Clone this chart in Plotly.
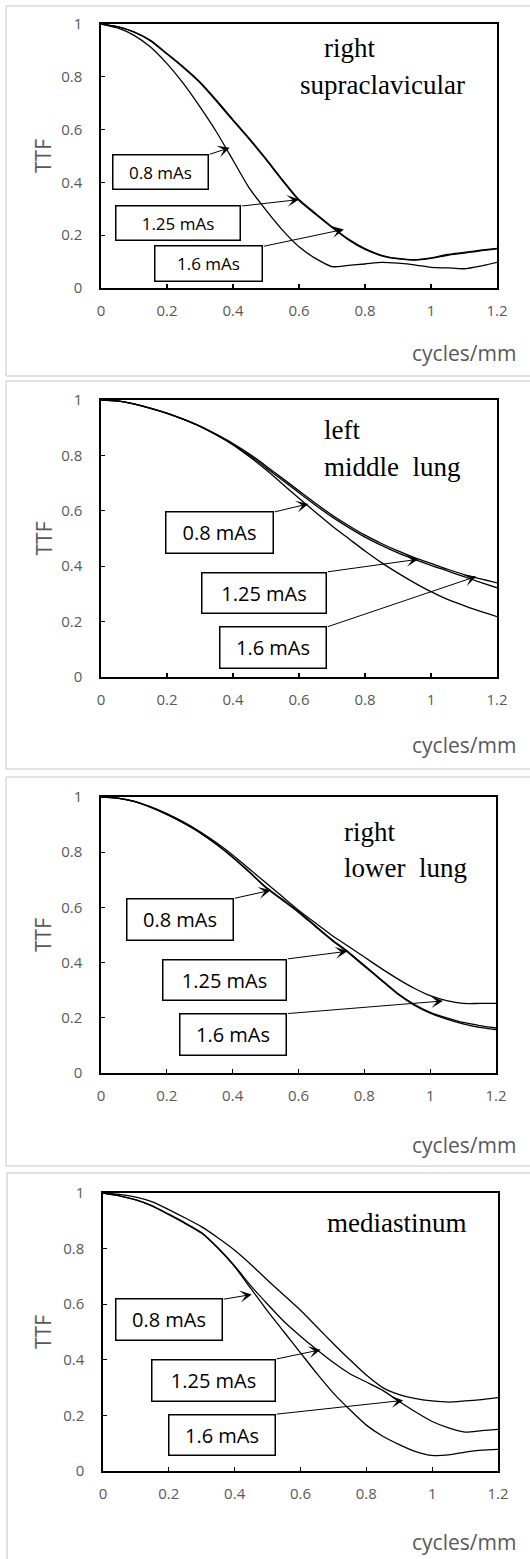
import plotly.graph_objects as go

# ---------------- data ----------------
X = [0, 0.05, 0.1, 0.15, 0.2, 0.25, 0.3, 0.35, 0.4, 0.45, 0.5, 0.55, 0.6,
     0.65, 0.7, 0.75, 0.8, 0.85, 0.9, 0.95, 1.0, 1.05, 1.1, 1.15, 1.2]

# right supraclavicular
p1_08 = [1.0, 0.985, 0.957, 0.913, 0.85, 0.774, 0.686, 0.591, 0.484, 0.377, 0.295, 0.219, 0.156,
         0.112, 0.081, 0.086, 0.091, 0.097, 0.094, 0.088, 0.078, 0.076, 0.073, 0.083, 0.097]
p1_125 = [1.0, 0.99, 0.97, 0.938, 0.888, 0.837, 0.78, 0.711, 0.638, 0.566, 0.49, 0.41, 0.335,
          0.283, 0.232, 0.185, 0.149, 0.124, 0.112, 0.107, 0.114, 0.127, 0.135, 0.143, 0.15]
p1_16 = [1.0, 0.99, 0.969, 0.936, 0.886, 0.834, 0.777, 0.707, 0.634, 0.562, 0.486, 0.406, 0.331,
         0.279, 0.229, 0.182, 0.146, 0.122, 0.11, 0.106, 0.112, 0.124, 0.132, 0.141, 0.148]

# left middle lung
p2_08 = [1.0, 0.997, 0.985, 0.97, 0.952, 0.93, 0.905, 0.874, 0.838, 0.795, 0.748, 0.697, 0.645,
         0.595, 0.545, 0.5, 0.455, 0.413, 0.375, 0.34, 0.308, 0.28, 0.258, 0.237, 0.218]
p2_125 = [1.0, 0.997, 0.986, 0.971, 0.953, 0.931, 0.906, 0.876, 0.843, 0.805, 0.762, 0.717, 0.672,
          0.627, 0.585, 0.547, 0.512, 0.482, 0.455, 0.431, 0.41, 0.389, 0.37, 0.354, 0.34]
p2_16 = [1.0, 0.997, 0.986, 0.97, 0.952, 0.93, 0.905, 0.874, 0.84, 0.8, 0.755, 0.71, 0.665,
         0.62, 0.578, 0.54, 0.505, 0.475, 0.448, 0.425, 0.403, 0.383, 0.362, 0.342, 0.322]

# right lower lung
p3_08 = [1.0, 0.996, 0.984, 0.963, 0.937, 0.907, 0.872, 0.83, 0.783, 0.73, 0.675, 0.63, 0.585,
         0.535, 0.485, 0.44, 0.39, 0.34, 0.29, 0.25, 0.22, 0.2, 0.183, 0.172, 0.163]
p3_125 = [1.0, 0.996, 0.984, 0.963, 0.937, 0.906, 0.871, 0.829, 0.781, 0.728, 0.672, 0.627, 0.582,
          0.532, 0.482, 0.437, 0.387, 0.337, 0.287, 0.247, 0.217, 0.195, 0.178, 0.165, 0.157]
p3_16 = [1.0, 0.996, 0.985, 0.965, 0.94, 0.91, 0.875, 0.835, 0.79, 0.74, 0.69, 0.64, 0.59,
         0.545, 0.5, 0.46, 0.42, 0.38, 0.342, 0.308, 0.28, 0.262, 0.252, 0.252, 0.252]

# mediastinum
p4_08 = [1.0, 0.99, 0.975, 0.953, 0.922, 0.89, 0.855, 0.8, 0.735, 0.655, 0.575, 0.5, 0.425,
         0.35, 0.28, 0.22, 0.165, 0.125, 0.095, 0.07, 0.056, 0.058, 0.068, 0.075, 0.078]
p4_125 = [1.0, 0.99, 0.975, 0.954, 0.924, 0.892, 0.857, 0.802, 0.738, 0.665, 0.6, 0.538, 0.485,
          0.436, 0.39, 0.35, 0.32, 0.29, 0.25, 0.212, 0.178, 0.155, 0.14, 0.145, 0.15]
p4_16 = [1.0, 0.995, 0.985, 0.968, 0.94, 0.91, 0.878, 0.838, 0.794, 0.742, 0.686, 0.632, 0.578,
         0.518, 0.458, 0.4, 0.345, 0.3, 0.275, 0.26, 0.252, 0.248, 0.252, 0.257, 0.264]

series_names = ["0.8 mAs", "1.25 mAs", "1.6 mAs"]
panel_series = [[p1_08, p1_125, p1_16], [p2_08, p2_125, p2_16],
                [p3_08, p3_125, p3_16], [p4_08, p4_125, p4_16]]
panel_titles = [["right", "supraclavicular"], ["left", "middle\u00a0 lung"],
                ["right", "lower\u00a0 lung"], ["mediastinum"]]

x_ticks = [0, 0.2, 0.4, 0.6, 0.8, 1.0, 1.2]
x_ticktext = ["0", "0.2", "0.4", "0.6", "0.8", "1", "1.2"]
y_ticks = [0, 0.2, 0.4, 0.6, 0.8, 1.0]
y_ticktext = ["0", "0.2", "0.4", "0.6", "0.8", "1"]

# label boxes: (center x, center y) in data units; arrow (tail x, tail y, head x, head y)
box_centers = [
    [(0.18, 0.44), (0.234, 0.248), (0.325, 0.092)],
    [(0.359, 0.521), (0.494, 0.305), (0.52, 0.1075)],
    [(0.24, 0.5575), (0.375, 0.338), (0.402, 0.1405)],
    [(0.199, 0.544), (0.3345, 0.327), (0.361, 0.13)],
]
arrows = [
    [(0.325, 0.505, 0.39, 0.531), (0.423, 0.31, 0.6, 0.335), (0.489, 0.157, 0.736, 0.222)],
    [(0.522, 0.595, 0.628, 0.625), (0.683, 0.379, 0.961, 0.425), (0.683, 0.18, 1.137, 0.363)],
    [(0.402, 0.632, 0.515, 0.662), (0.564, 0.413, 0.748, 0.441), (0.564, 0.215, 1.039, 0.261)],
    [(0.362, 0.617, 0.452, 0.635), (0.523, 0.402, 0.661, 0.436), (0.523, 0.204, 0.912, 0.254)],
]

# ---------------- layout geometry (pixels) ----------------
W, H = 530, 1559
plot_px = [(101, 497, 24, 288), (101, 497, 400, 677), (101, 496, 797, 1073), (103, 498, 1193, 1471)]
frame_px = [(6, 6, 376), (6, 381, 769), (6, 777, 1166), (7, 1173, None)]
box_px = [[(96, 35), (125, 35), (108, 36)],
          [(108, 42), (125, 41), (107, 42)],
          [(107, 42), (124, 41), (107, 42)],
          [(107, 42), (124, 42), (107, 41)]]
box_font = [17, 20, 20, 20]
title_px = [[(322, 48), (298, 85)], [(322, 430), (322, 467)],
            [(342, 832), (342, 868)], [(325, 1223)]]
xlab_y = [353, 745, 1145, 1542]

def px(xp):
    return xp / W

def py(yp):
    return 1 - yp / H

GRAY = "#595959"
FRAME = "#d9d9d9"
fig = go.Figure()
shapes = []
annotations = []

def hline(xp0, xp1, yp):
    return dict(type="line", xref="paper", yref="paper", x0=px(xp0), x1=px(xp1),
                y0=py(yp), y1=py(yp), line=dict(color=FRAME, width=1.5), layer="below")

def vline(xp, yp0, yp1):
    return dict(type="line", xref="paper", yref="paper", x0=px(xp), x1=px(xp),
                y0=py(yp0), y1=py(yp1), line=dict(color=FRAME, width=1.5), layer="below")

for i in range(4):
    ax_suffix = "" if i == 0 else str(i + 1)
    xa, ya = "x" + ax_suffix, "y" + ax_suffix
    x0, x1, yt, yb = plot_px[i]
    for s, name in zip(panel_series[i], series_names):
        fig.add_trace(go.Scatter(x=X, y=s, mode="lines", name=name, showlegend=False,
                                 line=dict(color="black", width=1.3, shape="spline", smoothing=0.6),
                                 xaxis=xa, yaxis=ya))
    axis_common = dict(showline=True, linecolor="black", linewidth=1.6, mirror=True,
                       ticks="inside", ticklen=4, tickcolor="black", tickwidth=1.3,
                       showgrid=False, zeroline=False,
                       tickfont=dict(family="Open Sans", size=15, color=GRAY))
    fig.update_layout(**{
        "xaxis" + ax_suffix: dict(domain=[px(x0), px(x1)], range=[0, 1.2], anchor=ya,
                                  tickvals=x_ticks, ticktext=x_ticktext,
                                  ticklabelstandoff=8, **axis_common),
        "yaxis" + ax_suffix: dict(domain=[py(yb), py(yt)], range=[0, 1], anchor=xa,
                                  tickvals=y_ticks, ticktext=y_ticktext,
                                  ticklabelstandoff=14, **axis_common),
    })
    fx0, fy0, fy1 = frame_px[i]
    shapes.append(hline(fx0, W, fy0))
    shapes.append(vline(fx0, fy0, fy1 if fy1 is not None else H))
    if fy1 is not None:
        shapes.append(hline(fx0, W, fy1))
    annotations.append(dict(xref="paper", yref="paper", x=px(43), y=py((yt + yb) / 2),
                            xanchor="center", yanchor="middle",
                            text="TTF", textangle=-90, showarrow=False,
                            font=dict(family="Open Sans", size=21, color=GRAY)))
    annotations.append(dict(xref="paper", yref="paper", x=px(518), y=py(xlab_y[i]),
                            xanchor="right", yanchor="middle", text="cycles/mm", showarrow=False,
                            font=dict(family="Open Sans", size=21, color=GRAY)))
    for txt, (tx, ty) in zip(panel_titles[i], title_px[i]):
        annotations.append(dict(xref="paper", yref="paper", x=px(tx), y=py(ty),
                                xanchor="left", yanchor="middle", text=txt, showarrow=False,
                                font=dict(family="Liberation Serif", size=27, color="black")))
    for (cx, cy), (bw, bh), name, (tx, ty, hx, hy) in zip(box_centers[i], box_px[i],
                                                           series_names, arrows[i]):
        annotations.append(dict(xref=xa, yref=ya, axref=xa, ayref=ya, x=hx, y=hy, ax=tx, ay=ty,
                                text="", showarrow=True, arrowhead=3, arrowsize=2,
                                arrowwidth=1, arrowcolor="black", standoff=0, startstandoff=0))
        annotations.append(dict(xref=xa, yref=ya, x=cx, y=cy, xanchor="center", yanchor="middle",
                                text=name, showarrow=False,
                                width=bw - 2, height=bh - 2, borderpad=0,
                                bordercolor="black", borderwidth=1.5, bgcolor="white",
                                font=dict(family="Open Sans", size=box_font[i], color="black")))

fig.update_layout(width=W, height=H, margin=dict(l=0, r=0, t=0, b=0, autoexpand=False),
                  paper_bgcolor="white", plot_bgcolor="white", dragmode=False,
                  shapes=shapes, annotations=annotations)
fig.write_html("out.html", config={"displayModeBar": False, "staticPlot": True},
               post_script=("document.documentElement.style.margin='0';"
                            "document.documentElement.style.padding='0';"
                            "document.documentElement.style.overflow='hidden';"
                            "document.body.style.margin='0';"
                            "document.body.style.padding='0';"
                            "document.body.style.overflow='hidden';"))
